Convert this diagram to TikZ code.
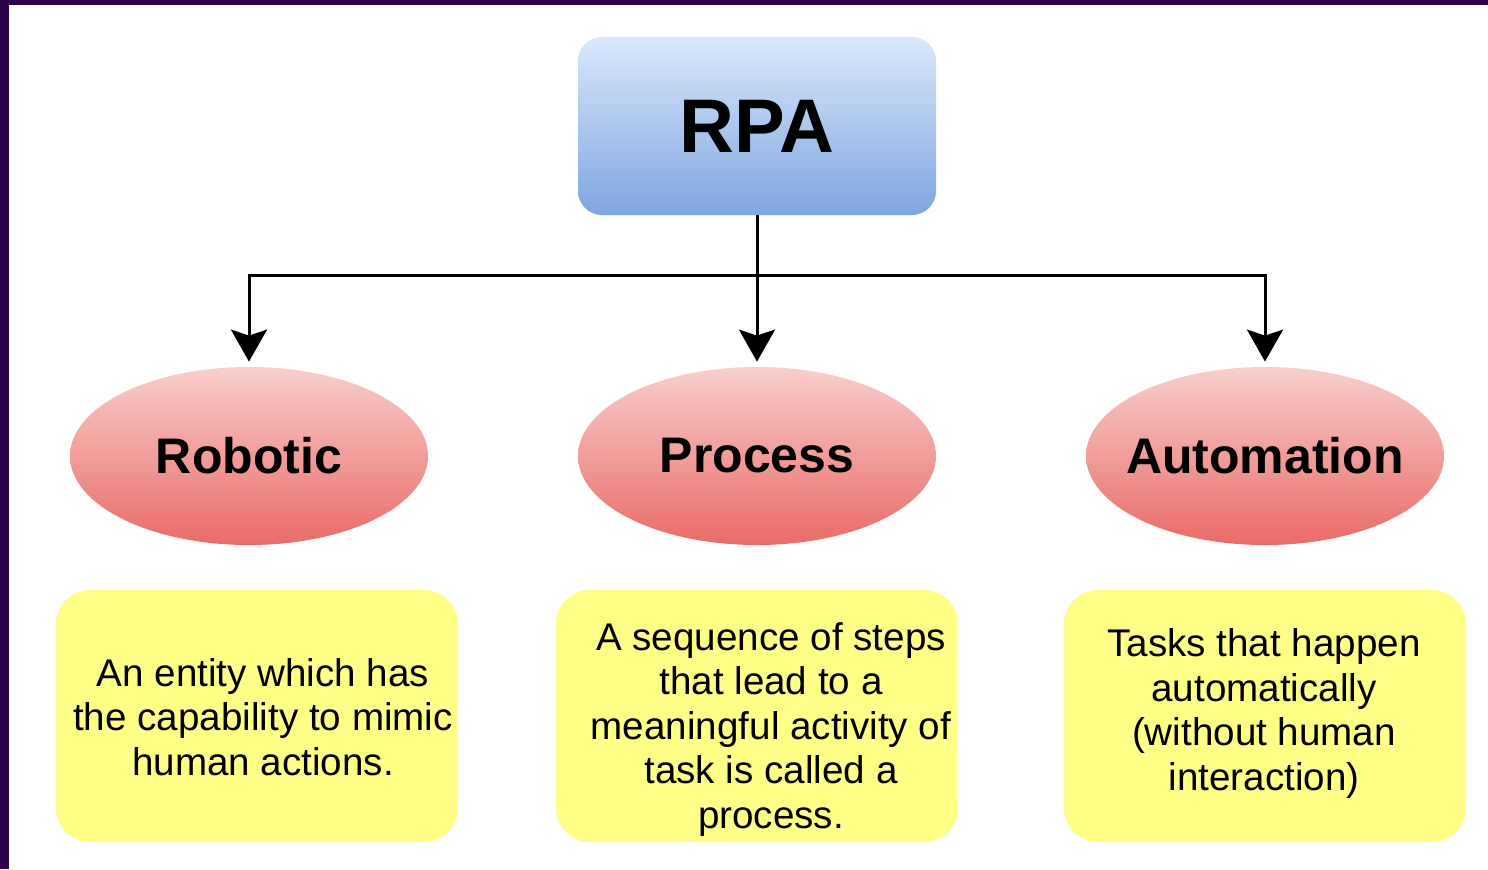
\documentclass[tikz,border=0pt]{standalone}
\usepackage{fontspec}
\setmainfont{Liberation Sans}
\usetikzlibrary{arrows.meta,shapes.geometric}
\definecolor{frame}{RGB}{43,0,71}
\definecolor{blueT}{HTML}{DAE8FC}
\definecolor{blueB}{HTML}{7EA6E0}
\definecolor{redT}{HTML}{F8CECC}
\definecolor{redB}{HTML}{EA6B66}
\definecolor{yel}{HTML}{FFFF88}
\tikzset{
  topbox/.style={rectangle, rounded corners=12pt, minimum width=179pt, minimum height=89pt, inner sep=0pt, top color=blueT, bottom color=blueB, font=\fontsize{38}{40}\selectfont\bfseries},
  oval/.style={ellipse, minimum width=179pt, minimum height=89pt, inner sep=0pt, top color=redT, bottom color=redB, font=\fontsize{25}{28}\selectfont\bfseries},
  note/.style={rectangle, rounded corners=17pt, minimum width=201pt, minimum height=126pt, inner sep=0pt, fill=yel},
  notetext/.style={align=center, anchor=base, inner sep=0pt, font=\fontsize{19.3}{22.25}\selectfont},
  conn/.style={line width=1.5pt, -{Stealth[length=16pt,width=18pt,inset=3pt]}, shorten >=2.5pt}
}
\begin{document}
\begin{tikzpicture}[x=0.5pt,y=-0.5pt]
\useasboundingbox (0,0) rectangle (1488,869);
\fill[white] (0,0) rectangle (1488,869);
\fill[frame] (0,0) rectangle (1488,5);
\fill[frame] (0,0) rectangle (9,869);

\node[topbox] (rpa) at (757,126) {RPA};
\node[oval] (rob) at (249,456) {\makebox[0pt]{Robotic}};
\node[oval] (pro) at (757,456) {\makebox[0pt]{Process}};
\node[oval] (aut) at (1265,456) {\makebox[0pt]{Automation}};

\node[note] (n1) at (257,716) {};
\node[note] (n2) at (757,716) {};
\node[note] (n3) at (1265,716) {};

\node[notetext] (t1) at (263,775) {An entity which has\\the capability to mimic\\human actions.};
\node[notetext] (t2) at (771,828) {A sequence of steps\\that lead to a\\meaningful activity of\\task is called a\\process.};
\node[notetext] (t3) at (1264,790) {Tasks that happen\\automatically\\(without human\\interaction)};

\coordinate (bus) at (757,275);
\draw[line width=1.5pt] (rpa.south) -- (bus);
\draw[conn] (bus) -| (rob.north);
\draw[conn] (bus) -- (pro.north);
\draw[conn] (bus) -| (aut.north);
\end{tikzpicture}
\end{document}
